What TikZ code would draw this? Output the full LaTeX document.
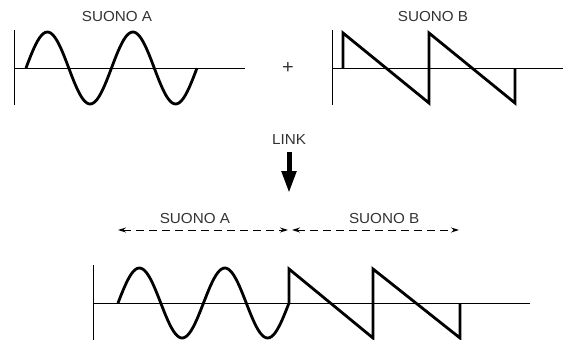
\documentclass[tikz,border=0pt]{standalone}
\usepackage{fontspec}
\setmainfont{Liberation Sans}[FakeStretch=1.05]
\usetikzlibrary{arrows.meta,positioning,calc}
\tikzset{every picture/.style={line width=0.75pt}}
\tikzset{
    lab/.style={inner sep=0pt, text=black!80, font=\fontsize{14.5}{16}\selectfont},
    axis/.style={line width=1pt},
    wave/.style={line width=2.8pt, line join=miter},
    span/.style={dash pattern=on 8pt off 5pt, line width=1pt,
        {Stealth[length=8pt,width=5pt]}-{Stealth[length=8pt,width=5pt]}},
    linkarrow/.style={line width=5pt, -{Triangle[length=22pt,width=14pt]}},
}

\begin{document}
\begin{tikzpicture}[x=1pt, y=-1pt]
    \useasboundingbox (0,0) rectangle (563,340);
    % sound A
    \node[lab] (labA) at (117,17) {SUONO A};
    \coordinate (a0) at (14,68);
    \draw[axis] (14,30) -- (14,105);
    \draw[axis] (a0) -- (245,68);
    \draw[wave] plot[domain=0:2, samples=90] ({26+85.5*\x},{68-36*sin(360*\x)});
    % sound B
    \node[lab, font=\fontsize{19}{20}\selectfont] (plus) at (288,68) {+};
    \node[lab] (labB) at (433,17) {SUONO B};
    \coordinate (b0) at (332,68);
    \draw[axis] (332,30) -- (332,105);
    \draw[axis] (b0) -- (563,68);
    \draw[wave] (343,68) -- (343,33) -- (429,103) -- (429,33) -- (515,103) -- (515,68);
    % link
    \node[lab] (link) at (289,140) {LINK};
    \coordinate (linkTop) at (289,152);
    \coordinate (linkTip) at (289,193);
    \draw[linkarrow] (linkTop) -- (linkTip);
    % spans
    \coordinate (dA) at (118,230);
    \coordinate (dM) at (289,230);
    \coordinate (dB) at (459,230);
    \draw[span] (dA) -- ([xshift=-1pt]dM);
    \draw[span] ([xshift=3pt]dM) -- (dB);
    \node[lab, above=6pt of $(dA)!0.45!(dM)$] (barA) {SUONO A};
    \node[lab, above=6pt of $(dM)!0.56!(dB)$] (barB) {SUONO B};
    % linked sound
    \draw[axis] (93,265) -- (93,340);
    \draw[axis] (93,303) -- (530,303);
    \draw[wave] plot[domain=0:2, samples=90] ({118+85.5*\x},{303-35*sin(360*\x)})
        -- (289,269) -- (373,338) -- (373,269) -- (460,338) -- (460,303);
\end{tikzpicture}
\end{document}
